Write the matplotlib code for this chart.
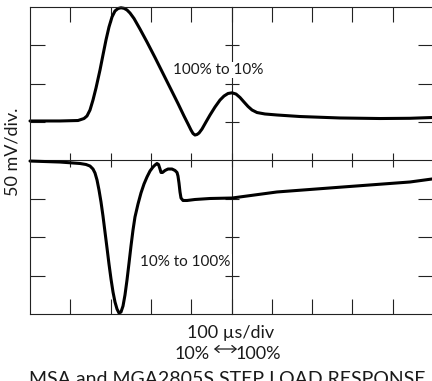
import matplotlib
matplotlib.use("Agg")
import matplotlib.pyplot as plt

plt.rcParams['font.family'] = ['Lato', 'DejaVu Sans']

# Time base: 100 us/div over 10 divisions; vertical: 50 mV/div over 8 divisions
time_load_drop_us = [0, 74.4, 119.1, 134.0, 141.4, 148.9, 156.3, 163.8, 173.7, 181.1,
                     188.6, 196.0, 203.5, 210.9, 218.4, 225.8, 233.3, 240.7, 248.1,
                     258.1, 272.9, 290.3, 310.2, 330.0, 349.9, 367.2, 382.1, 392.1,
                     399.5, 404.5, 409.4, 414.4, 419.4, 426.8, 436.7, 446.7, 459.1,
                     471.5, 481.4, 491.3, 501.2, 511.2, 521.1, 531.0, 541.0, 550.9,
                     563.3, 583.1, 612.9, 670.0, 769.2, 868.5, 942.9, 997.5]
volt_load_drop_mv = [51.5, 51.5, 52.1, 54.7, 58.0, 65.8, 78.8, 94.5, 117.9, 137.5,
                     157.1, 173.9, 187.0, 194.8, 198.0, 199.0, 198.3, 196.1, 192.2,
                     185.0, 171.3, 154.4, 134.2, 113.4, 92.5, 74.3, 58.0, 47.6,
                     39.7, 35.2, 33.2, 33.9, 35.8, 41.0, 50.2, 59.3, 69.7, 78.8,
                     84.0, 87.3, 88.2, 86.6, 82.1, 76.2, 70.4, 65.8, 62.5, 60.6,
                     59.3, 57.3, 55.4, 54.7, 55.0, 56.0]

time_load_rise_us = [0, 74.4, 124.1, 139.0, 148.9, 156.3, 161.3, 166.3, 171.2, 176.2,
                     181.1, 186.1, 191.1, 196.0, 201.0, 206.0, 210.9, 215.9, 220.8,
                     225.8, 230.8, 235.7, 240.7, 245.7, 250.6, 255.6, 260.5, 268.0,
                     275.4, 282.9, 290.3, 297.8, 305.2, 310.2, 315.1, 318.9, 322.6,
                     325.1, 328.8, 335.0, 342.4, 352.4, 359.8, 364.8, 367.2, 369.7,
                     372.2, 374.7, 379.7, 389.6, 409.4, 446.7, 501.2, 612.9, 776.7,
                     942.9, 997.5]
volt_load_rise_mv = [-0.7, -2.0, -3.9, -5.2, -7.2, -11.1, -16.3, -25.4, -38.4, -54.1,
                     -72.3, -93.2, -114.0, -134.9, -154.4, -171.4, -184.4, -193.5,
                     -198.7, -197.4, -189.6, -175.2, -155.7, -133.6, -111.4, -90.6,
                     -73.6, -56.7, -42.3, -30.6, -21.5, -13.7, -8.5, -5.9, -3.9,
                     -5.2, -11.1, -15.6, -15.6, -13.0, -11.1, -11.1, -13.0, -15.6,
                     -20.2, -29.3, -41.0, -48.9, -52.1, -52.1, -50.8, -49.5, -48.9,
                     -41.0, -34.5, -28.0, -24.1]

x_ticks_us = [100, 200, 300, 400, 500, 600, 700, 800, 900]
y_ticks_mv = [-150, -100, -50, 50, 100, 150]

W, H = 432, 381
fig = plt.figure(figsize=(W / 100, H / 100), dpi=100)
ax = fig.add_axes([30 / W, (H - 314) / H, 403 / W, 307 / H])
ax.set_xlim(0, 1000)
ax.set_ylim(-200, 200)

frame_color = '#222222'
text_color = '#1a1a1a'
lw_frame = 0.8

for side in ['left', 'top', 'bottom', 'right']:
    ax.spines[side].set_color(frame_color)
    ax.spines[side].set_linewidth(lw_frame)

ax.set_xticks(x_ticks_us)
ax.set_yticks(y_ticks_mv)
ax.tick_params(axis='both', which='major', direction='in', length=10.8,
               width=lw_frame, color=frame_color, top=True, bottom=True,
               left=True, right=True, labelbottom=False, labelleft=False)

# Graticule centre lines, each with ticks crossing it
sx = ax.secondary_xaxis(0.5)
sx.set_xticks(x_ticks_us)
sx.tick_params(direction='inout', length=10, width=lw_frame, color=frame_color,
               labelbottom=False, labeltop=False)
for s in sx.spines.values():
    s.set_color(frame_color)
    s.set_linewidth(lw_frame)

sy = ax.secondary_yaxis(0.5)
sy.set_yticks(y_ticks_mv)
sy.tick_params(direction='inout', length=10, width=lw_frame, color=frame_color,
               labelleft=False, labelright=False)
for s in sy.spines.values():
    s.set_color(frame_color)
    s.set_linewidth(lw_frame)

trace_kw = dict(color='black', lw=2.2, solid_joinstyle='round',
                solid_capstyle='round', clip_on=False)
ax.plot(time_load_drop_us, volt_load_drop_mv, **trace_kw)
ax.plot(time_load_rise_us, volt_load_rise_mv, **trace_kw)

label_box = dict(facecolor='white', edgecolor='none', pad=1.0)


def fx(px):
    return px / W


def fy(py):
    return 1 - py / H


# Trace annotations sit on a white patch that hides the graticule behind them
fig.text(fx(218), fy(70), '100% to 10%', fontsize=11, ha='center',
         va='center', color=text_color, bbox=label_box, zorder=10)
fig.text(fx(185), fy(262), '10% to 100%', fontsize=11, ha='center',
         va='center', color=text_color, bbox=label_box, zorder=10)

fig.text(fx(13), fy(152), '50 mV/div.', rotation=90, fontsize=13,
         ha='center', va='center', color=text_color)
fig.text(fx(231), fy(333), '100 \u00b5s/div', fontsize=13,
         ha='center', va='center', color=text_color)
fig.text(fx(210), fy(354), '10%', fontsize=13, ha='right', va='center',
         color=text_color)
fig.text(fx(236), fy(354), '100%', fontsize=13, ha='left', va='center',
         color=text_color)
fig.add_artist(plt.matplotlib.patches.FancyArrowPatch(
    (fx(214), fy(349)), (fx(237), fy(349)), transform=fig.transFigure,
    arrowstyle='<->,head_length=3,head_width=2.5', lw=0.9, color=text_color,
    shrinkA=0, shrinkB=0))
fig.text(fx(227), fy(371), 'MSA and MGA2805S STEP LOAD RESPONSE', fontsize=14,
         ha='center', va='top', color=text_color)

fig.savefig('out.png', dpi=100)
